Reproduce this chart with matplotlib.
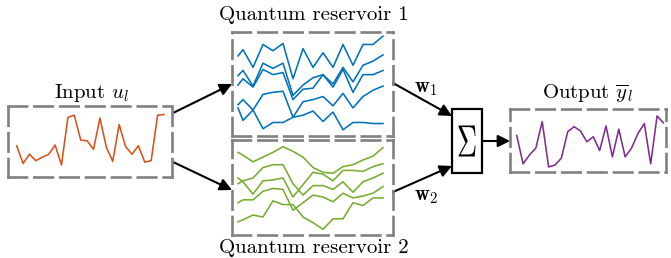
import matplotlib
matplotlib.use("Agg")
import matplotlib.pyplot as plt
from matplotlib.patches import Rectangle, PathPatch
from matplotlib.textpath import TextPath
from matplotlib.transforms import Affine2D

plt.rcParams["font.family"] = "cmr10"
plt.rcParams["mathtext.fontset"] = "cm"
plt.rcParams["axes.unicode_minus"] = False

# input signal u_l
u_in = [0.44, 0.19, 0.32, 0.23, 0.28, 0.32, 0.45, 0.17, 0.84, 0.87, 0.52, 0.51,
        0.39, 0.83, 0.42, 0.22, 0.74, 0.43, 0.32, 0.44, 0.21, 0.23, 0.87, 0.88]

# output signal y_l
y_out = [0.58, 0.13, 0.27, 0.38, 0.80, 0.08, 0.11, 0.22, 0.64, 0.72, 0.65, 0.48,
         0.56, 0.34, 0.73, 0.24, 0.68, 0.24, 0.38, 0.61, 0.77, 0.13, 0.89, 0.78]

# reservoir time axis
t_res = [0, 0.5, 1.5, 2.5, 3.5, 4.5, 5.5, 6.5, 7.5, 8.5, 9.5, 10.5, 11.5, 12.5, 13.5, 14.5]

res1 = [
    [0.77, 0.83, 0.66, 0.88, 0.82, 0.89, 0.55, 0.84, 0.66, 0.80, 0.66, 0.88, 0.68, 0.88, 0.88, 0.96],
    [0.58, 0.63, 0.48, 0.70, 0.65, 0.70, 0.39, 0.49, 0.56, 0.59, 0.50, 0.66, 0.52, 0.68, 0.72, 0.78],
    [0.49, 0.55, 0.47, 0.64, 0.59, 0.61, 0.35, 0.45, 0.46, 0.59, 0.47, 0.64, 0.42, 0.59, 0.59, 0.63],
    [0.30, 0.35, 0.25, 0.40, 0.42, 0.43, 0.18, 0.33, 0.35, 0.38, 0.29, 0.41, 0.27, 0.38, 0.44, 0.48],
    [0.27, 0.15, 0.25, 0.07, 0.13, 0.13, 0.18, 0.20, 0.24, 0.14, 0.23, 0.06, 0.13, 0.13, 0.12, 0.12],
]

res2 = [
    [0.87, 0.84, 0.77, 0.82, 0.87, 0.93, 0.88, 0.82, 0.71, 0.66, 0.65, 0.72, 0.74, 0.79, 0.83, 0.92],
    [0.60, 0.56, 0.43, 0.57, 0.58, 0.60, 0.40, 0.53, 0.66, 0.64, 0.57, 0.68, 0.68, 0.67, 0.72, 0.75],
    [0.54, 0.57, 0.60, 0.71, 0.74, 0.74, 0.54, 0.42, 0.52, 0.52, 0.48, 0.56, 0.45, 0.56, 0.60, 0.65],
    [0.34, 0.37, 0.37, 0.46, 0.49, 0.48, 0.26, 0.34, 0.42, 0.40, 0.35, 0.44, 0.39, 0.41, 0.44, 0.51],
    [0.14, 0.16, 0.21, 0.19, 0.36, 0.32, 0.32, 0.19, 0.13, 0.06, 0.17, 0.17, 0.34, 0.31, 0.39, 0.39],
]

W, H = 671, 258
fig = plt.figure(figsize=(W / 100, H / 100), dpi=100)

# background axes in pixel units for arrows / labels
bg = fig.add_axes([0, 0, 1, 1])
bg.set_xlim(0, W)
bg.set_ylim(H, 0)
bg.axis("off")


def panel(x0, y0, x1, y1):
    ax = fig.add_axes([x0 / W, 1 - y1 / H, (x1 - x0) / W, (y1 - y0) / H])
    ax.patch.set_alpha(0)
    ax.set_xticks([])
    ax.set_yticks([])
    for s in ax.spines.values():
        s.set_color("#808080")
        s.set_linewidth(1.9)
        s.set_linestyle((0, (7.0, 2.8)))
    ax.set_ylim(0, 1)
    return ax


lw = 1.15

ax_in = panel(8, 106, 172, 177)
ax_in.plot(range(len(u_in)), u_in, color="#d95319", lw=lw)
ax_in.set_xlim(-1.35, 24.25)

ax_r1 = panel(232, 32, 393, 136)
for s in res1:
    ax_r1.plot(t_res, s, color="#0072bd", lw=lw)
ax_r1.set_xlim(-0.6, 15.5)

ax_r2 = panel(232, 140, 393, 235)
for s in res2:
    ax_r2.plot(t_res, s, color="#77ac30", lw=lw)
ax_r2.set_xlim(-0.6, 15.5)

ax_out = panel(510, 109, 666, 172)
ax_out.plot(range(len(y_out)), y_out, color="#7e2f8e", lw=lw)
ax_out.set_xlim(-1.05, 23.4)

# summation block, with a tall sigma
bg.add_patch(Rectangle((452, 109), 30, 64, fill=False, ec="k", lw=1.6))
tp = TextPath((0, 0), r"$\Sigma$", size=20)
ext = tp.get_extents()
sx = 17 / ext.width
sy = 31 / ext.height
tr = (Affine2D().translate(-ext.x0 - ext.width / 2, -ext.y0 - ext.height / 2)
      .scale(sx, -sy).translate(467, 141))
bg.add_patch(PathPatch(tr.transform_path(tp), fc="k", ec="none"))

arrow = dict(arrowstyle="-|>", color="k", lw=1.5, mutation_scale=18,
             shrinkA=0, shrinkB=0)
bg.annotate("", xy=(232, 84), xytext=(173, 113), arrowprops=arrow)
bg.annotate("", xy=(232, 190), xytext=(173, 162), arrowprops=arrow)
bg.annotate("", xy=(452, 116), xytext=(393, 83), arrowprops=arrow)
bg.annotate("", xy=(452, 166), xytext=(393, 192), arrowprops=arrow)
bg.annotate("", xy=(510, 141), xytext=(482, 141), arrowprops=arrow)

fs = 15
bg.text(91, 98, r"Input $u_l$", fontsize=fs, ha="center", va="baseline")
bg.text(314, 19.5, "Quantum reservoir 1", fontsize=fs, ha="center", va="baseline")
bg.text(314, 253, "Quantum reservoir 2", fontsize=fs, ha="center", va="baseline")
bg.text(587, 98.5, r"Output $\overline{y}_l$", fontsize=fs, ha="center", va="baseline")
bg.text(426, 92, r"$\mathbf{w}_1$", fontsize=fs, ha="center", va="baseline")
bg.text(426, 200, r"$\mathbf{w}_2$", fontsize=fs, ha="center", va="baseline")

fig.savefig("out.png", dpi=100)
